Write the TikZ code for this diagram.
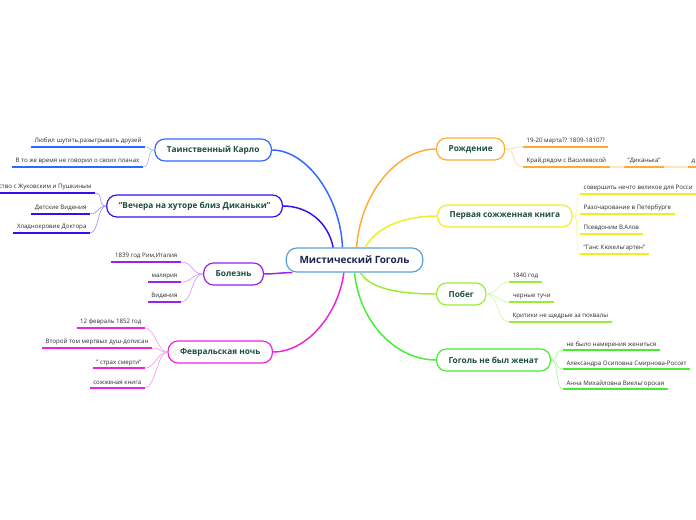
\documentclass[tikz,border=0pt]{standalone}
\usepackage{fontspec}
\setmainfont{Open Sans}
\definecolor{cCentre}{HTML}{5A9FD4}
\definecolor{cKarlo}{HTML}{3366FF}
\definecolor{cVechera}{HTML}{3311EE}
\definecolor{cBolezn}{HTML}{9922EE}
\definecolor{cFevral}{HTML}{EE22DD}
\definecolor{cRozhd}{HTML}{FFAA33}
\definecolor{cKniga}{HTML}{EEEE22}
\definecolor{cPobeg}{HTML}{99EE33}
\definecolor{cZhenat}{HTML}{44EE33}
\definecolor{centretext}{HTML}{1A2550}
\definecolor{topictext}{HTML}{1D4D3C}
\definecolor{leaftext}{HTML}{2A2A2A}

\begin{document}
\begin{tikzpicture}[x=0.75pt, y=-0.75pt,
    centre/.style = {rectangle, draw=cCentre, line width=0.9pt, rounded corners=8pt, fill=white, inner xsep=10pt, minimum height=18pt, font=\bfseries\fontsize{7.5}{9}\selectfont, text=centretext},
    topic/.style = {rectangle, draw=#1, line width=0.9pt, rounded corners=7.5pt, fill=white, inner xsep=9pt, minimum height=16.5pt, font=\bfseries\fontsize{6.2}{8}\selectfont, text=topictext},
    leaf/.style = {inner xsep=2.5pt, inner ysep=1.5pt, text height=4pt, text depth=1.3pt, font=\fontsize{4.6}{6}\selectfont, text=leaftext, append after command={(\tikzlastnode.south west) edge[draw=#1, line width=1.4pt] (\tikzlastnode.south east)}},
    branch/.style = {draw=#1, line width=1.1pt},
    twig/.style = {draw=#1!45, line width=0.5pt}]

    \path[use as bounding box] (0,0) rectangle (696,520);
    \clip (0,0) rectangle (696,520);

    % centre and main topics
    \node[centre] (gogol) at (354.5,260) {Мистический Гоголь};
    \node[topic=cKarlo, anchor=east] (karlo) at (272,150) {Таинственный Карло};
    \node[topic=cVechera, anchor=east] (vechera) at (283,206) {"Вечера на хуторе близ Диканьки"};
    \node[topic=cBolezn, anchor=east] (bolezn) at (264,274) {Болезнь};
    \node[topic=cFevral, anchor=east] (fevral) at (273,352) {Февральская ночь};
    \node[topic=cRozhd, anchor=west] (rozhd) at (436,149) {Рождение};
    \node[topic=cKniga, anchor=west] (kniga) at (437,216) {Первая сожженная книга};
    \node[topic=cPobeg, anchor=west] (pobeg) at (436,294) {Побег};
    \node[topic=cZhenat, anchor=west] (zhenat) at (436,360) {Гоголь не был женат};

    \draw[branch=cKarlo] ([xshift=-9pt]gogol.north) .. controls +(-2,-50) and +(35,0) .. (karlo.east);
    \draw[branch=cVechera] ([xshift=-16pt]gogol.north) .. controls +(-5,-25) and +(25,0) .. (vechera.east);
    \draw[branch=cBolezn] ([xshift=5pt]gogol.south west) .. controls +(-10,0) and +(10,0) .. (bolezn.east);
    \draw[branch=cFevral] ([xshift=-8pt]gogol.south) .. controls +(-5,40) and +(35,0) .. (fevral.east);
    \draw[branch=cRozhd] ([xshift=1.5pt]gogol.north) .. controls +(5,-60) and +(-35,0) .. (rozhd.west);
    \draw[branch=cKniga] ([xshift=8pt]gogol.north) .. controls +(12,-22) and +(-30,0) .. (kniga.west);
    \draw[branch=cPobeg] ([xshift=4.5pt]gogol.south) .. controls +(10,18) and +(-30,0) .. (pobeg.west);
    \draw[branch=cZhenat] (gogol.south) .. controls +(5,50) and +(-40,0) .. (zhenat.west);

    % left leaves
    \node[leaf=cKarlo, anchor=south east] (k1) at (145,147) {Любил шутить,разыгрывать друзей};
    \node[leaf=cKarlo, anchor=south east] (k2) at (143,167) {В то же время не говорил о своих планах};
    \node[leaf=cVechera, anchor=south east] (v1) at (95,193) {ство с Жуковским и Пушкиным};
    \node[leaf=cVechera, anchor=south east] (v2) at (90,214) {Детские Видения};
    \node[leaf=cVechera, anchor=south east] (v3) at (90,233) {Хладнокровие Доктора};
    \node[leaf=cBolezn, anchor=south east] (b1) at (181,262) {1839 год Рим,Италия};
    \node[leaf=cBolezn, anchor=south east] (b2) at (181,282) {малярия};
    \node[leaf=cBolezn, anchor=south east] (b3) at (181,302) {Видения};
    \node[leaf=cFevral, anchor=south east] (f1) at (145,328) {12 февраль 1852 год};
    \node[leaf=cFevral, anchor=south east] (f2) at (152,348) {Второй том мертвых душ-дописан};
    \node[leaf=cFevral, anchor=south east] (f3) at (145,368) {" страх смерти"};
    \node[leaf=cFevral, anchor=south east] (f4) at (145,388) {сожженая книга};

    % right leaves
    \node[leaf=cRozhd, anchor=south west] (r1) at (523,147) {19-20 марта?? 1809-1810??};
    \node[leaf=cRozhd, anchor=south west] (r2) at (523,167) {Край,рядом с Василевской};
    \node[leaf=cRozhd, anchor=south west] (r3) at (624,167) {"Диканька"};
    \node[leaf=cRozhd, anchor=south west] (r4) at (688,167) {д};
    \node[leaf=cKniga, anchor=south west] (n1) at (580,194) {совершить нечто великое  для Росси};
    \node[leaf=cKniga, anchor=south west] (n2) at (580,214) {Разочарование в Петербурге};
    \node[leaf=cKniga, anchor=south west] (n3) at (580,234) {Псевдоним В.Алов};
    \node[leaf=cKniga, anchor=south west] (n4) at (580,254) {"Ганс Кюхельгартен"};
    \node[leaf=cPobeg, anchor=south west] (p1) at (509,282) {1840 год};
    \node[leaf=cPobeg, anchor=south west] (p2) at (509,302) {черные тучи};
    \node[leaf=cPobeg, anchor=south west] (p3) at (509,322) {Критики не щедрые за похвалы};
    \node[leaf=cZhenat, anchor=south west] (z1) at (563,350) {не было намерения жениться};
    \node[leaf=cZhenat, anchor=south west] (z2) at (563,369) {Александра Осиповна Смирнова-Россет};
    \node[leaf=cZhenat, anchor=south west] (z3) at (563,389) {Анна Михайловна Виельгорская};

    % twigs
    \draw[twig=cKarlo] (karlo.west) .. controls +(-8,0) and +(8,0) .. (k1.south east);
    \draw[twig=cKarlo] (karlo.west) .. controls +(-8,0) and +(8,0) .. (k2.south east);
    \draw[twig=cVechera] (vechera.west) .. controls +(-9,0) and +(9,0) .. (v1.south east);
    \draw[twig=cVechera] (vechera.west) .. controls +(-9,0) and +(9,0) .. (v2.south east);
    \draw[twig=cVechera] (vechera.west) .. controls +(-9,0) and +(9,0) .. (v3.south east);
    \draw[twig=cBolezn] (bolezn.west) .. controls +(-12,0) and +(12,0) .. (b1.south east);
    \draw[twig=cBolezn] (bolezn.west) .. controls +(-12,0) and +(12,0) .. (b2.south east);
    \draw[twig=cBolezn] (bolezn.west) .. controls +(-12,0) and +(12,0) .. (b3.south east);
    \draw[twig=cFevral] (fevral.west) .. controls +(-10,0) and +(10,0) .. (f1.south east);
    \draw[twig=cFevral] (fevral.west) .. controls +(-10,0) and +(10,0) .. (f2.south east);
    \draw[twig=cFevral] (fevral.west) .. controls +(-10,0) and +(10,0) .. (f3.south east);
    \draw[twig=cFevral] (fevral.west) .. controls +(-10,0) and +(10,0) .. (f4.south east);
    \draw[twig=cRozhd] (rozhd.east) .. controls +(12,0) and +(-12,0) .. (r1.south west);
    \draw[twig=cRozhd] (rozhd.east) .. controls +(12,0) and +(-12,0) .. (r2.south west);
    \draw[draw=cRozhd!30, line width=1.4pt] (r2.south east) -- (r3.south west);
    \draw[draw=cRozhd!30, line width=1.4pt] (r3.south east) -- (r4.south west);
    \draw[twig=cKniga] (kniga.east) .. controls +(8,0) and +(-6,0) .. (n1.south west);
    \draw[twig=cKniga] (kniga.east) .. controls +(8,0) and +(-6,0) .. (n2.south west);
    \draw[twig=cKniga] (kniga.east) .. controls +(8,0) and +(-6,0) .. (n3.south west);
    \draw[twig=cKniga] (kniga.east) .. controls +(8,0) and +(-6,0) .. (n4.south west);
    \draw[twig=cPobeg] (pobeg.east) .. controls +(12,0) and +(-12,0) .. (p1.south west);
    \draw[twig=cPobeg] (pobeg.east) .. controls +(12,0) and +(-12,0) .. (p2.south west);
    \draw[twig=cPobeg] (pobeg.east) .. controls +(12,0) and +(-12,0) .. (p3.south west);
    \draw[twig=cZhenat] (zhenat.east) .. controls +(8,0) and +(-8,0) .. (z1.south west);
    \draw[twig=cZhenat] (zhenat.east) .. controls +(8,0) and +(-8,0) .. (z2.south west);
    \draw[twig=cZhenat] (zhenat.east) .. controls +(8,0) and +(-8,0) .. (z3.south west);
\end{tikzpicture}
\end{document}
